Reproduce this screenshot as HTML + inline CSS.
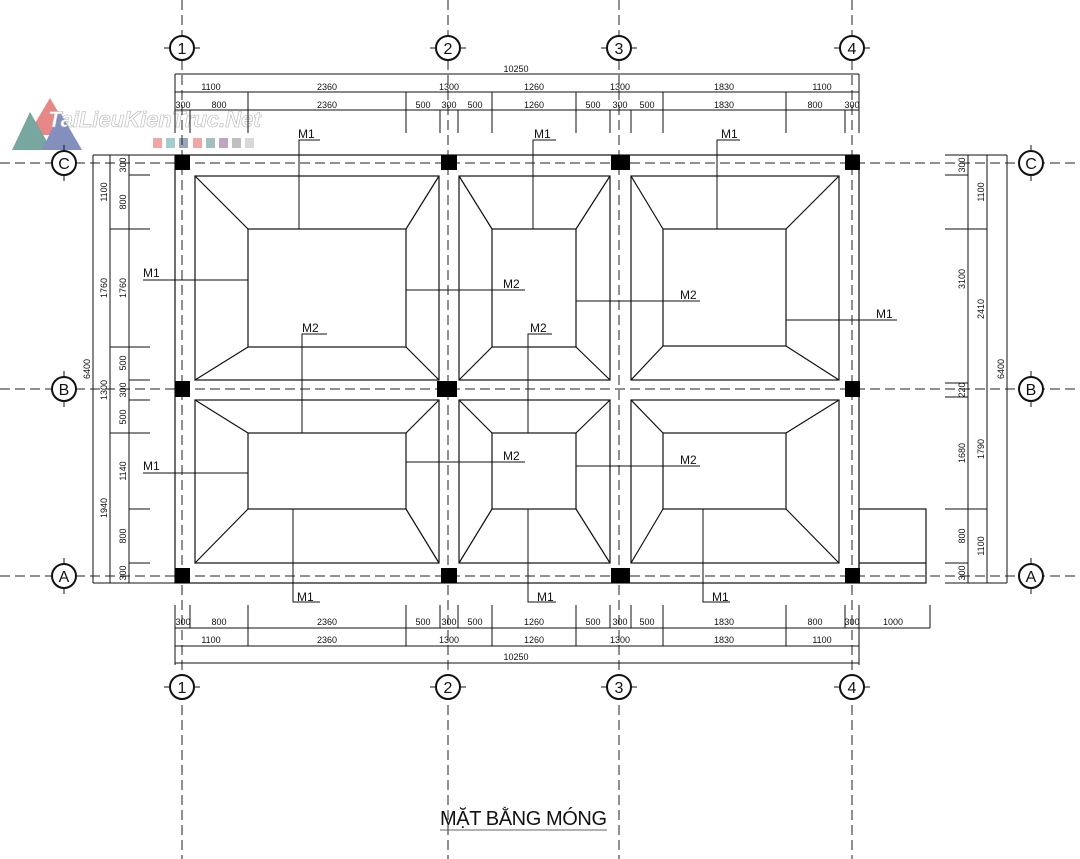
<!DOCTYPE html>
<html><head><meta charset="utf-8"><style>
html,body{margin:0;padding:0;background:#fff;width:1080px;height:859px;overflow:hidden}
svg{display:block}
text{font-family:"Liberation Sans",sans-serif;fill:#111}
.d{font-size:9px}
.m{font-size:12px}
</style></head><body>
<svg width="1080" height="859" viewBox="0 0 1080 859" xmlns="http://www.w3.org/2000/svg">
<!-- watermark -->
<g opacity="0.75">
<polygon points="50,98 28,135 72,135" fill="#e06060"/>
<polygon points="30,112 12,150 52,150" fill="#4a8a80"/>
<polygon points="60,112 42,150 82,150" fill="#5a6aa8"/>
<text x="48" y="127" style="font-size:22px;font-weight:bold;font-style:italic;fill:#fff;stroke:#999;stroke-width:0.6">TaiLieuKienTruc.Net</text>
<rect x="153" y="138" width="9" height="10" fill="#e88"/><rect x="166" y="138" width="9" height="10" fill="#8bb"/>
<rect x="179" y="138" width="9" height="10" fill="#78a"/><rect x="193" y="138" width="9" height="10" fill="#e88"/>
<rect x="206" y="138" width="9" height="10" fill="#8aa"/><rect x="219" y="138" width="9" height="10" fill="#a8a"/>
<rect x="232" y="138" width="9" height="10" fill="#aaa"/><rect x="245" y="138" width="9" height="10" fill="#ccc"/>
</g>
<!-- grid dashed -->
<g stroke="#222" stroke-width="1" stroke-dasharray="10 5" fill="none">
<line x1="182" y1="0" x2="182" y2="859"/><line x1="448" y1="0" x2="448" y2="859"/>
<line x1="619" y1="0" x2="619" y2="859"/><line x1="852" y1="0" x2="852" y2="859"/>
<line x1="0" y1="163" x2="1080" y2="163"/><line x1="0" y1="389" x2="1080" y2="389"/>
<line x1="0" y1="576" x2="1080" y2="576"/>
</g>
<!-- bubbles -->
<g stroke="#111" stroke-width="2" fill="#fff">
<circle cx="182" cy="48" r="12"/><circle cx="448" cy="48" r="12"/><circle cx="619" cy="48" r="12"/><circle cx="852" cy="48" r="12"/>
<circle cx="182" cy="687" r="12"/><circle cx="448" cy="687" r="12"/><circle cx="619" cy="687" r="12"/><circle cx="852" cy="687" r="12"/>
<circle cx="64" cy="163" r="12"/><circle cx="64" cy="389" r="12"/><circle cx="64" cy="576" r="12"/>
<circle cx="1031" cy="163" r="12"/><circle cx="1031" cy="389" r="12"/><circle cx="1031" cy="576" r="12"/>
</g>
<g stroke="#111" stroke-width="1">
<path d="M164 48h6M194 48h6M430 48h6M460 48h6M601 48h6M631 48h6M834 48h6M864 48h6"/>
<path d="M164 687h6M194 687h6M430 687h6M460 687h6M601 687h6M631 687h6M834 687h6M864 687h6"/>
<path d="M64 145v6M64 175v6M64 371v6M64 401v6M64 558v6M64 588v6"/>
<path d="M1031 145v6M1031 175v6M1031 371v6M1031 401v6M1031 558v6M1031 588v6"/>
</g>
<g style="font-size:16px" text-anchor="middle">
<text x="182" y="54">1</text><text x="448" y="54">2</text><text x="619" y="54">3</text><text x="852" y="54">4</text>
<text x="182" y="693">1</text><text x="448" y="693">2</text><text x="619" y="693">3</text><text x="852" y="693">4</text>
<text x="64" y="169">C</text><text x="64" y="395">B</text><text x="64" y="582">A</text>
<text x="1031" y="169">C</text><text x="1031" y="395">B</text><text x="1031" y="582">A</text>
</g>
<!-- beams & pads -->
<g stroke="#111" stroke-width="1.2" fill="none">
<rect x="175" y="155" width="684" height="428"/>
<rect x="859" y="509" width="67" height="74"/><line x1="859" y1="563" x2="926" y2="563"/>
<rect x="195" y="176" width="244" height="204"/><rect x="248" y="229" width="158" height="118"/>
<path d="M195 176L248 229M439 176L406 229M195 380L248 347M439 380L406 347"/>
<rect x="459" y="176" width="151" height="204"/><rect x="492" y="229" width="84" height="118"/>
<path d="M459 176L492 229M610 176L576 229M459 380L492 347M610 380L576 347"/>
<rect x="631" y="176" width="208" height="204"/><rect x="663" y="229" width="123" height="117"/>
<path d="M631 176L663 229M839 176L786 229M631 380L663 346M839 380L786 346"/>
<rect x="195" y="400" width="244" height="163"/><rect x="248" y="433" width="158" height="76"/>
<path d="M195 400L248 433M439 400L406 433M195 563L248 509M439 563L406 509"/>
<rect x="459" y="400" width="151" height="163"/><rect x="492" y="433" width="84" height="76"/>
<path d="M459 400L492 433M610 400L576 433M459 563L492 509M610 563L576 509"/>
<rect x="631" y="400" width="208" height="163"/><rect x="663" y="433" width="123" height="76"/>
<path d="M631 400L663 433M839 400L786 433M631 563L663 509M839 563L786 509"/>
</g>
<!-- columns -->
<g fill="#000">
<rect x="175" y="155" width="15" height="15"/><rect x="441" y="155" width="16" height="15"/><rect x="611" y="155" width="19" height="15"/><rect x="845" y="155" width="15" height="15"/>
<rect x="175" y="381" width="15" height="16"/><rect x="437" y="381" width="20" height="16"/><rect x="845" y="381" width="15" height="16"/>
<rect x="175" y="568" width="15" height="15"/><rect x="441" y="568" width="16" height="15"/><rect x="611" y="568" width="19" height="15"/><rect x="845" y="568" width="15" height="15"/>
</g>
<!-- leaders -->
<g stroke="#111" stroke-width="1" fill="none">
<path d="M299 229V140H320M533 229V140H556M717 229V140H740"/>
<path d="M143 280H248M406 290H525M576 301H700M786 320H897"/>
<path d="M302 433V334H327M528 433V334H552"/>
<path d="M143 473H248M406 462H525M576 466H700"/>
<path d="M293 509V602H320M528 509V602H556M703 509V602H730"/>
</g>
<g class="m">
<text x="298" y="138">M1</text><text x="534" y="138">M1</text><text x="721" y="138">M1</text>
<text x="143" y="277">M1</text><text x="503" y="288">M2</text><text x="680" y="299">M2</text><text x="876" y="318">M1</text>
<text x="302" y="332">M2</text><text x="530" y="332">M2</text>
<text x="143" y="470">M1</text><text x="503" y="460">M2</text><text x="680" y="464">M2</text>
<text x="297" y="601">M1</text><text x="537" y="601">M1</text><text x="712" y="601">M1</text>
</g>
<!-- top dims -->
<g stroke="#111" stroke-width="1">
<path d="M175 74H859M175 92H859M175 110H859"/>
<path d="M175 74V133M859 74V133"/>
<path d="M248 92V133M406 92V133M492 92V133M576 92V133M663 92V133M786 92V133"/>
<path d="M190 110V133M440 110V133M458 110V133M610 110V133M631 110V133M845 110V133"/>
</g>
<g class="d" text-anchor="middle">
<text x="516" y="72">10250</text>
<text x="211" y="90">1100</text><text x="327" y="90">2360</text><text x="449" y="90">1300</text><text x="534" y="90">1260</text><text x="620" y="90">1300</text><text x="724" y="90">1830</text><text x="822" y="90">1100</text>
<text x="183" y="108">300</text><text x="219" y="108">800</text><text x="327" y="108">2360</text><text x="423" y="108">500</text><text x="449" y="108">300</text><text x="475" y="108">500</text><text x="534" y="108">1260</text><text x="593" y="108">500</text><text x="620" y="108">300</text><text x="647" y="108">500</text><text x="724" y="108">1830</text><text x="815" y="108">800</text><text x="852" y="108">300</text>
</g>
<!-- bottom dims -->
<g stroke="#111" stroke-width="1">
<path d="M175 628H930M175 646H859M175 663H859"/>
<path d="M175 605V665M859 605V665M930 605V628"/>
<path d="M248 605V646M406 605V646M492 605V646M576 605V646M663 605V646M786 605V646"/>
<path d="M190 605V628M440 605V628M458 605V628M610 605V628M631 605V628M845 605V628"/>
</g>
<g class="d" text-anchor="middle">
<text x="183" y="625">300</text><text x="219" y="625">800</text><text x="327" y="625">2360</text><text x="423" y="625">500</text><text x="449" y="625">300</text><text x="475" y="625">500</text><text x="534" y="625">1260</text><text x="593" y="625">500</text><text x="620" y="625">300</text><text x="647" y="625">500</text><text x="724" y="625">1830</text><text x="815" y="625">800</text><text x="852" y="625">300</text><text x="893" y="625">1000</text>
<text x="211" y="643">1100</text><text x="327" y="643">2360</text><text x="449" y="643">1300</text><text x="534" y="643">1260</text><text x="620" y="643">1300</text><text x="724" y="643">1830</text><text x="822" y="643">1100</text>
<text x="516" y="660">10250</text>
</g>
<!-- left dims -->
<g stroke="#111" stroke-width="1">
<path d="M93 155V583M110 155V583M129 155V583"/>
<path d="M93 155H175M93 583H175"/>
<path d="M110 229H150M110 347H150M110 433H150"/>
<path d="M129 175H150M129 380H150M129 400H150M129 509H150M129 563H150"/>
</g>
<g class="d" text-anchor="middle">
<text transform="translate(90,369) rotate(-90)">6400</text>
<text transform="translate(107,192) rotate(-90)">1100</text>
<text transform="translate(107,288) rotate(-90)">1760</text>
<text transform="translate(107,390) rotate(-90)">1300</text>
<text transform="translate(107,508) rotate(-90)">1940</text>
<text transform="translate(126,165) rotate(-90)">300</text>
<text transform="translate(126,202) rotate(-90)">800</text>
<text transform="translate(126,288) rotate(-90)">1760</text>
<text transform="translate(126,363) rotate(-90)">500</text>
<text transform="translate(126,390) rotate(-90)">300</text>
<text transform="translate(126,417) rotate(-90)">500</text>
<text transform="translate(126,471) rotate(-90)">1140</text>
<text transform="translate(126,536) rotate(-90)">800</text>
<text transform="translate(126,573) rotate(-90)">300</text>
</g>
<!-- right dims -->
<g stroke="#111" stroke-width="1">
<path d="M968 155V583M987 155V583M1007 155V583"/>
<path d="M945 155H1007M945 583H1007"/>
<path d="M945 175H968M945 383H968M945 397H968M945 563H968"/>
<path d="M945 229H987M945 509H987"/>
</g>
<g class="d" text-anchor="middle">
<text transform="translate(965,165) rotate(-90)">300</text>
<text transform="translate(965,279) rotate(-90)">3100</text>
<text transform="translate(965,390) rotate(-90)">220</text>
<text transform="translate(965,453) rotate(-90)">1680</text>
<text transform="translate(965,536) rotate(-90)">800</text>
<text transform="translate(965,573) rotate(-90)">300</text>
<text transform="translate(984,192) rotate(-90)">1100</text>
<text transform="translate(984,309) rotate(-90)">2410</text>
<text transform="translate(984,449) rotate(-90)">1790</text>
<text transform="translate(984,546) rotate(-90)">1100</text>
<text transform="translate(1004,369) rotate(-90)">6400</text>
</g>
<!-- title -->
<text x="440" y="825" style="font-size:20px" textLength="167">MẶT BẰNG MÓNG</text>
<line x1="440" y1="830" x2="607" y2="830" stroke="#666" stroke-width="1"/>
</svg>
</body></html>
